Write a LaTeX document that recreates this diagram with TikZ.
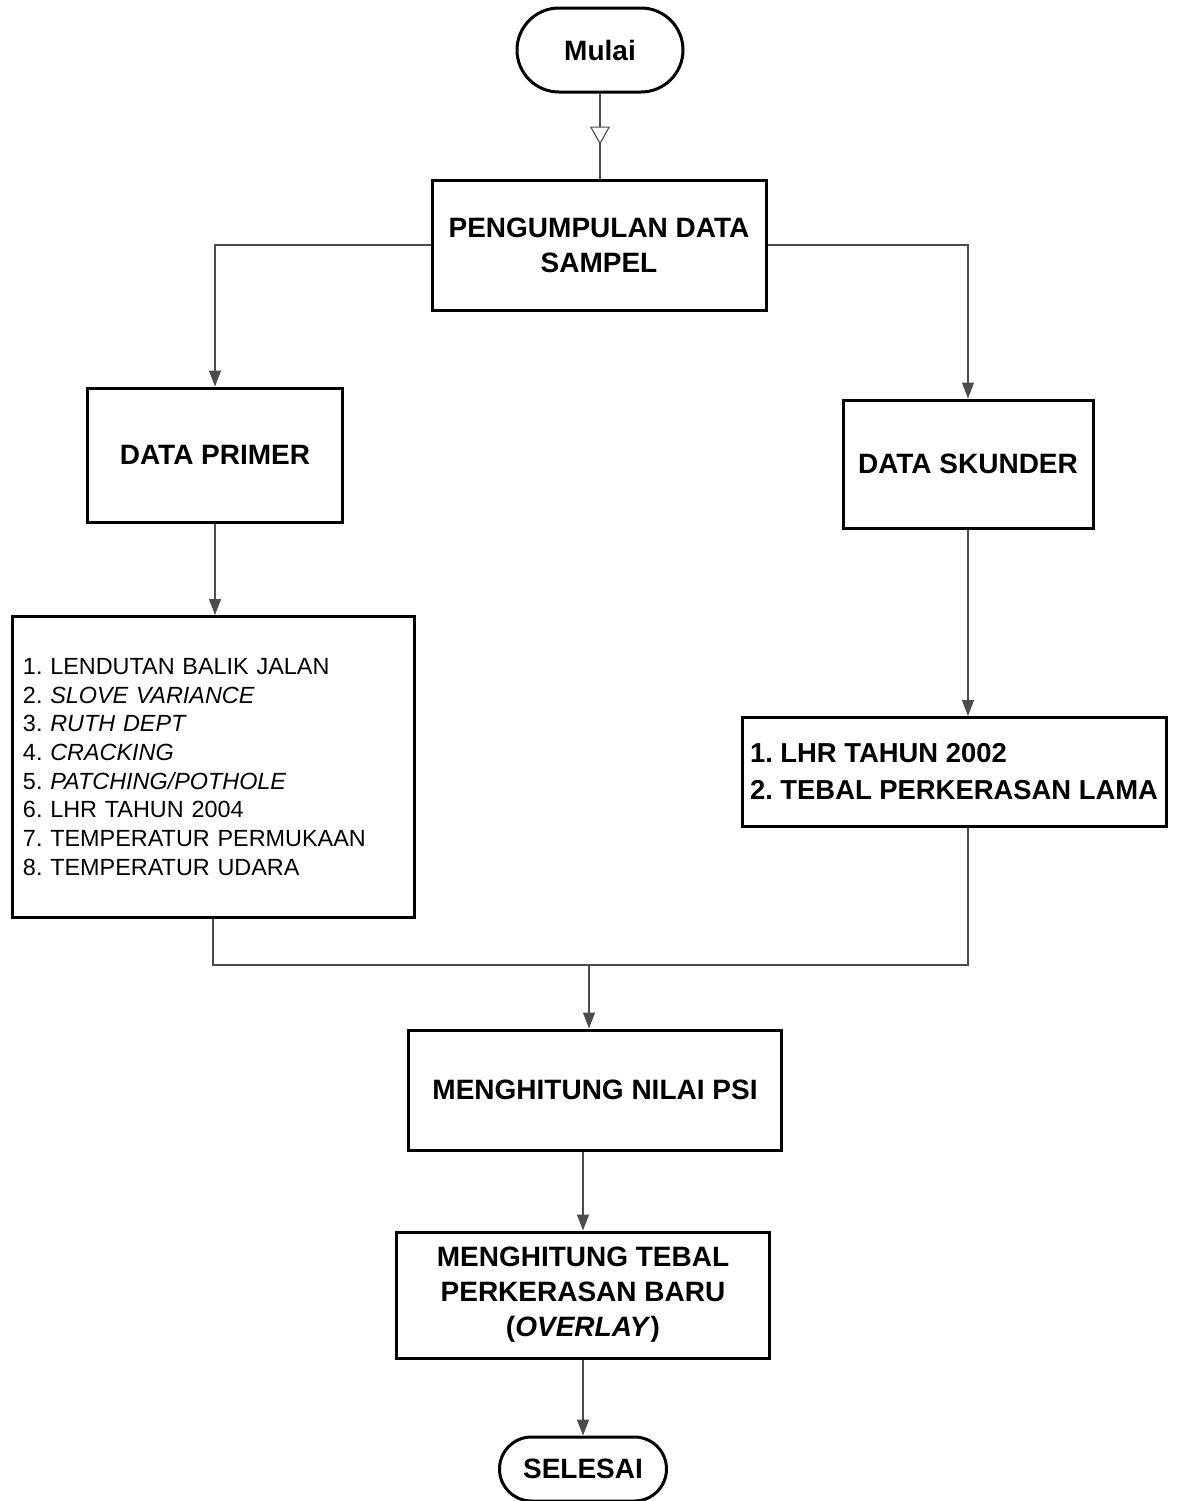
\documentclass[tikz,border=0pt]{standalone}
\usepackage{fontspec}
\setmainfont{Liberation Sans}
\usetikzlibrary{arrows.meta,positioning,calc,decorations.markings}
\frenchspacing

\begin{document}
\begin{tikzpicture}[
  x=0.5pt, y=-0.5pt,
  every node/.style={font=\fontsize{14pt}{17.5pt}\selectfont\bfseries},
  box/.style={rectangle, draw, line width=1.5pt, align=center, inner sep=0pt},
  terminal/.style={rectangle, draw, line width=1.5pt, inner sep=0pt},
  listtext/.style={font=\fontsize{11.7pt}{14.35pt}\selectfont, align=left,
                   text width=190pt, inner xsep=5.5pt},
  link/.style={draw=black!70, line width=0.55pt},
  tip/.style={-{Triangle[width=6pt,length=8pt]}}
]
\useasboundingbox (0,0) rectangle (1183,1501);

% awal
\node[terminal, rounded corners=21pt, minimum width=83pt, minimum height=42pt] (mulai) at (600,50) {Mulai};
\node[box, minimum width=167pt, minimum height=65pt] (kumpul) at (599,245)
      {PENGUMPULAN DATA\\SAMPEL};

% cabang kiri (data primer)
\node[box, minimum width=127.5pt, minimum height=67pt] (primer) at (215,455) {DATA PRIMER};
\node[box, listtext, minimum height=150.5pt] (dataprim) at (213,767)
      {1. LENDUTAN BALIK JALAN\\
       2. \textit{SLOVE VARIANCE}\\
       3. \textit{RUTH DEPT}\\
       4. \textit{CRACKING}\\
       5. \textit{PATCHING/POTHOLE}\\
       6. LHR TAHUN 2004\\
       7. TEMPERATUR PERMUKAAN\\
       8. TEMPERATUR UDARA};

% cabang kanan (data skunder)
\node[box, minimum width=125pt, minimum height=64pt] (skunder) at (968,464) {DATA SKUNDER};
\node[box, align=left, minimum width=212pt, minimum height=54.5pt,
      font=\fontsize{13.7pt}{18.5pt}\selectfont\bfseries] (dataskun) at (954,772)
      {1. LHR TAHUN 2002\\2. TEBAL PERKERASAN LAMA};

% perhitungan
\node[box, minimum width=186.5pt, minimum height=60pt] (psi) at (595,1090) {MENGHITUNG NILAI PSI};
\node[box, minimum width=186.5pt, minimum height=63pt] (tebal) at (583,1295)
      {MENGHITUNG TEBAL\\PERKERASAN BARU\\(\textit{OVERLAY})};
\node[terminal, rounded corners=16pt, minimum width=83.5pt, minimum height=32pt] (selesai) at (583,1469) {SELESAI};

% garis penghubung
\draw[link, postaction={decorate},
      decoration={markings, mark=at position 0.6 with {\arrow{Triangle[width=10pt,length=9pt,fill=white]}}}]
      (mulai.south) -- (mulai.south |- kumpul.north);
\draw[link, tip] (kumpul.west) -| (primer.north);
\draw[link, tip] (kumpul.east) -| (skunder.north);
\draw[link, tip] (primer.south) -- (primer.south |- dataprim.north);
\draw[link, tip] (skunder.south) -- (skunder.south |- dataskun.north);

\coordinate (gabung) at (589,965);
\draw[link] (dataprim.south) |- (gabung);
\draw[link] (skunder.south |- dataskun.south) |- (gabung);
\draw[link, tip] (gabung) -- (gabung |- psi.north);
\draw[link, tip] (psi.south -| tebal.north) -- (tebal.north);
\draw[link, tip] (tebal) -- (selesai);
\end{tikzpicture}
\end{document}
